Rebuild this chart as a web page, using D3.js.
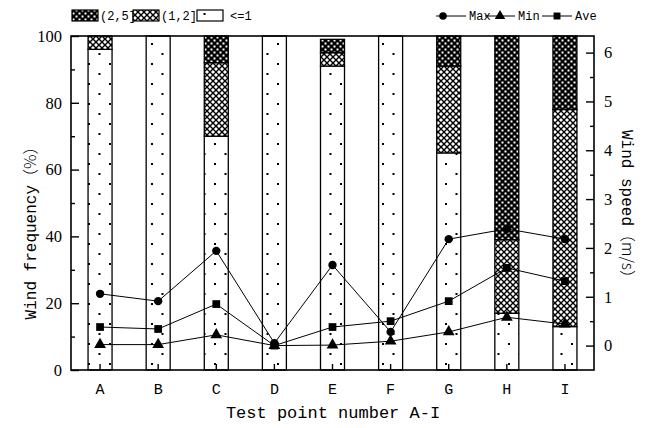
<!DOCTYPE html>
<html>
<head>
<meta charset="utf-8">
<script src="https://cdn.jsdelivr.net/npm/d3@7"></script>
<style>
  html, body { margin: 0; padding: 0; background: #fff; }
  svg { display: block; }
</style>
</head>
<body>
<svg id="chart" width="654" height="428"></svg>
<script>
// Test points and wind-frequency shares (%) by speed class
const categories = ["A", "B", "C", "D", "E", "F", "G", "H", "I"];
const shareLow  = [96, 100, 70, 100, 91, 100, 65, 17, 13];   // <=1
const shareMid  = [4, 0, 22, 0, 4, 0, 26, 22, 65];           // (1,2]
const shareHigh = [0, 0, 8, 0, 4, 0, 9, 61, 22];             // (2,5]

// Wind speed statistics (m/s)
const speedMax = [1.06, 0.91, 1.94, 0.05, 1.65, 0.28, 2.18, 2.39, 2.18];
const speedMin = [0.02, 0.02, 0.22, 0.00, 0.01, 0.09, 0.28, 0.58, 0.44];
const speedAve = [0.38, 0.34, 0.85, 0.00, 0.38, 0.50, 0.91, 1.59, 1.32];

const freqTicks = [0, 20, 40, 60, 80, 100];
const speedTicks = [0, 1, 2, 3, 4, 5, 6];

const svg = d3.select("#chart");
const L = 71, R = 594, T = 36, B = 370;
const monoFont = "'Liberation Mono', 'Noto Sans CJK SC', monospace";
const cjkFont = "'Noto Sans CJK SC', sans-serif";
const serifFont = "'Liberation Serif', serif";

const x = d3.scaleBand().domain(categories).range([L, R]).padding(0);
const yF = d3.scaleLinear().domain([0, 100]).range([B, T]);
const yS = d3.scaleLinear().domain([-0.5, 6.34]).range([B, T]);
const barW = 24;

// fill patterns
const defs = svg.append("defs");
const pDots = defs.append("pattern").attr("id", "pDots")
  .attr("patternUnits", "userSpaceOnUse").attr("width", 21).attr("height", 20);
pDots.append("rect").attr("width", 21).attr("height", 20).attr("fill", "#fff");
pDots.append("rect").attr("x", 4).attr("y", 3).attr("width", 2).attr("height", 2).attr("fill", "#000");
pDots.append("rect").attr("x", 14.5).attr("y", 13).attr("width", 2).attr("height", 2).attr("fill", "#000");

const pMid = defs.append("pattern").attr("id", "pMid")
  .attr("patternUnits", "userSpaceOnUse").attr("width", 6).attr("height", 6);
pMid.append("rect").attr("width", 6).attr("height", 6).attr("fill", "#fff");
pMid.append("path").attr("d", "M0,0L6,6M6,0L0,6").attr("stroke", "#000").attr("stroke-width", 1.4);

const pHigh = defs.append("pattern").attr("id", "pHigh")
  .attr("patternUnits", "userSpaceOnUse").attr("width", 6).attr("height", 6);
pHigh.append("rect").attr("width", 6).attr("height", 6).attr("fill", "#000");
pHigh.append("rect").attr("x", 0.5).attr("y", 0.5).attr("width", 2).attr("height", 2).attr("fill", "#fff");
pHigh.append("rect").attr("x", 3.5).attr("y", 3.5).attr("width", 2).attr("height", 2).attr("fill", "#fff");

// stacked bars
const rows = categories.map((c, i) => ({ c, low: shareLow[i], mid: shareMid[i], high: shareHigh[i] }));
const stack = d3.stack().keys(["low", "mid", "high"])(rows);
const fills = { low: "url(#pDots)", mid: "url(#pMid)", high: "url(#pHigh)" };
const barG = svg.append("g");
stack.forEach(layer => {
  barG.selectAll(null).data(layer.filter(d => d[1] > d[0])).enter().append("rect")
    .attr("x", d => x(d.data.c) + x.bandwidth() / 2 - barW / 2)
    .attr("width", barW)
    .attr("y", d => yF(d[1]))
    .attr("height", d => yF(d[0]) - yF(d[1]))
    .attr("fill", fills[layer.key])
    .attr("stroke", "#000").attr("stroke-width", 1.3);
});

// frame
svg.append("rect").attr("x", L).attr("y", T).attr("width", R - L).attr("height", B - T)
  .attr("fill", "none").attr("stroke", "#000").attr("stroke-width", 1.6);

// axes
function styleAxis(g) {
  g.select(".domain").remove();
  g.selectAll(".tick line").attr("stroke", "#000").attr("stroke-width", 1.4);
}
const leftAx = svg.append("g").attr("transform", `translate(${L},0)`)
  .call(d3.axisLeft(yF).tickValues(freqTicks).tickSize(-8).tickPadding(9))
  .call(styleAxis);
leftAx.selectAll("text").attr("font-family", serifFont).attr("font-size", 16.5).attr("fill", "#000");
svg.append("g").attr("transform", `translate(${L},0)`)
  .call(d3.axisLeft(yF).tickValues([10, 30, 50, 70, 90]).tickSize(-4).tickFormat(""))
  .call(styleAxis);

const rightAx = svg.append("g").attr("transform", `translate(${R},0)`)
  .call(d3.axisRight(yS).tickValues(speedTicks).tickSize(-8).tickPadding(10).tickFormat(d3.format("d")))
  .call(styleAxis);
rightAx.selectAll("text").attr("font-family", serifFont).attr("font-size", 16.5).attr("fill", "#000");
svg.append("g").attr("transform", `translate(${R},0)`)
  .call(d3.axisRight(yS).tickValues([0.5, 1.5, 2.5, 3.5, 4.5, 5.5]).tickSize(-4).tickFormat(""))
  .call(styleAxis);

const bottomAx = svg.append("g").attr("transform", `translate(0,${B})`)
  .call(d3.axisBottom(x).tickSize(-6).tickPadding(13))
  .call(styleAxis);
bottomAx.selectAll("text").attr("font-family", monoFont).attr("font-size", 15).attr("fill", "#000");

// axis titles (full-width brackets set in the CJK face)
function title(transform, main, unit, size) {
  const t = svg.append("text").attr("transform", transform)
    .attr("text-anchor", "middle").attr("font-family", monoFont).attr("font-size", size);
  t.append("tspan").text(main);
  t.append("tspan").attr("font-family", cjkFont).attr("font-weight", 300).text("（" + unit + "）");
}
title("translate(36,229) rotate(-90)", "Wind frequency", "%", 16);
title("translate(622,208) rotate(90)", "Wind speed", "m/s", 16);
svg.append("text").attr("x", 333).attr("y", 418)
  .attr("text-anchor", "middle").attr("font-family", monoFont).attr("font-size", 17)
  .text("Test point number A-I");

// speed lines
const cx = c => x(c) + x.bandwidth() / 2;
const series = [
  { name: "Max", vals: speedMax, sym: d3.symbolCircle, size: 55 },
  { name: "Min", vals: speedMin, sym: d3.symbolTriangle, size: 60 },
  { name: "Ave", vals: speedAve, sym: d3.symbolSquare, size: 60 }
];
const line = d3.line().x(d => cx(d.c)).y(d => yS(d.v));
series.forEach(s => {
  const pts = categories.map((c, i) => ({ c, v: s.vals[i] }));
  svg.append("path").datum(pts).attr("d", line)
    .attr("fill", "none").attr("stroke", "#000").attr("stroke-width", 1);
  svg.selectAll(null).data(pts).enter().append("path")
    .attr("d", d3.symbol().type(s.sym).size(s.size))
    .attr("transform", d => `translate(${cx(d.c)},${yS(d.v)})`)
    .attr("fill", "#000");
});

// legend: speed classes
const legA = [
  { key: "(2,5]", fill: "url(#pHigh)", x: 72 },
  { key: "(1,2]", fill: "url(#pMid)", x: 133 },
  { key: "<=1", fill: "url(#pDots)", x: 197 }
];
legA.forEach(d => {
  svg.append("rect").attr("x", d.x).attr("y", 10).attr("width", 26).attr("height", 11)
    .attr("fill", d.fill).attr("stroke", "#000").attr("stroke-width", 1.2);
  svg.append("text").attr("x", d.x + (d.key === "<=1" ? 33 : 28)).attr("y", 20)
    .attr("font-family", monoFont).attr("font-size", 12).text(d.key);
});

// legend: speed series
const legB = [
  { s: series[0], x: 436, m: 7 },
  { s: series[1], x: 485, m: 15 },
  { s: series[2], x: 542, m: 15 }
];
legB.forEach(d => {
  svg.append("line").attr("x1", d.x).attr("x2", d.x + 30).attr("y1", 16).attr("y2", 16)
    .attr("stroke", "#000").attr("stroke-width", 1);
  svg.append("path").attr("d", d3.symbol().type(d.s.sym).size(d.s.size * 0.8))
    .attr("transform", `translate(${d.x + d.m},16)`).attr("fill", "#000");
  svg.append("text").attr("x", d.x + 33).attr("y", 20)
    .attr("font-family", monoFont).attr("font-size", 12).text(d.s.name);
});
</script>
</body>
</html>
